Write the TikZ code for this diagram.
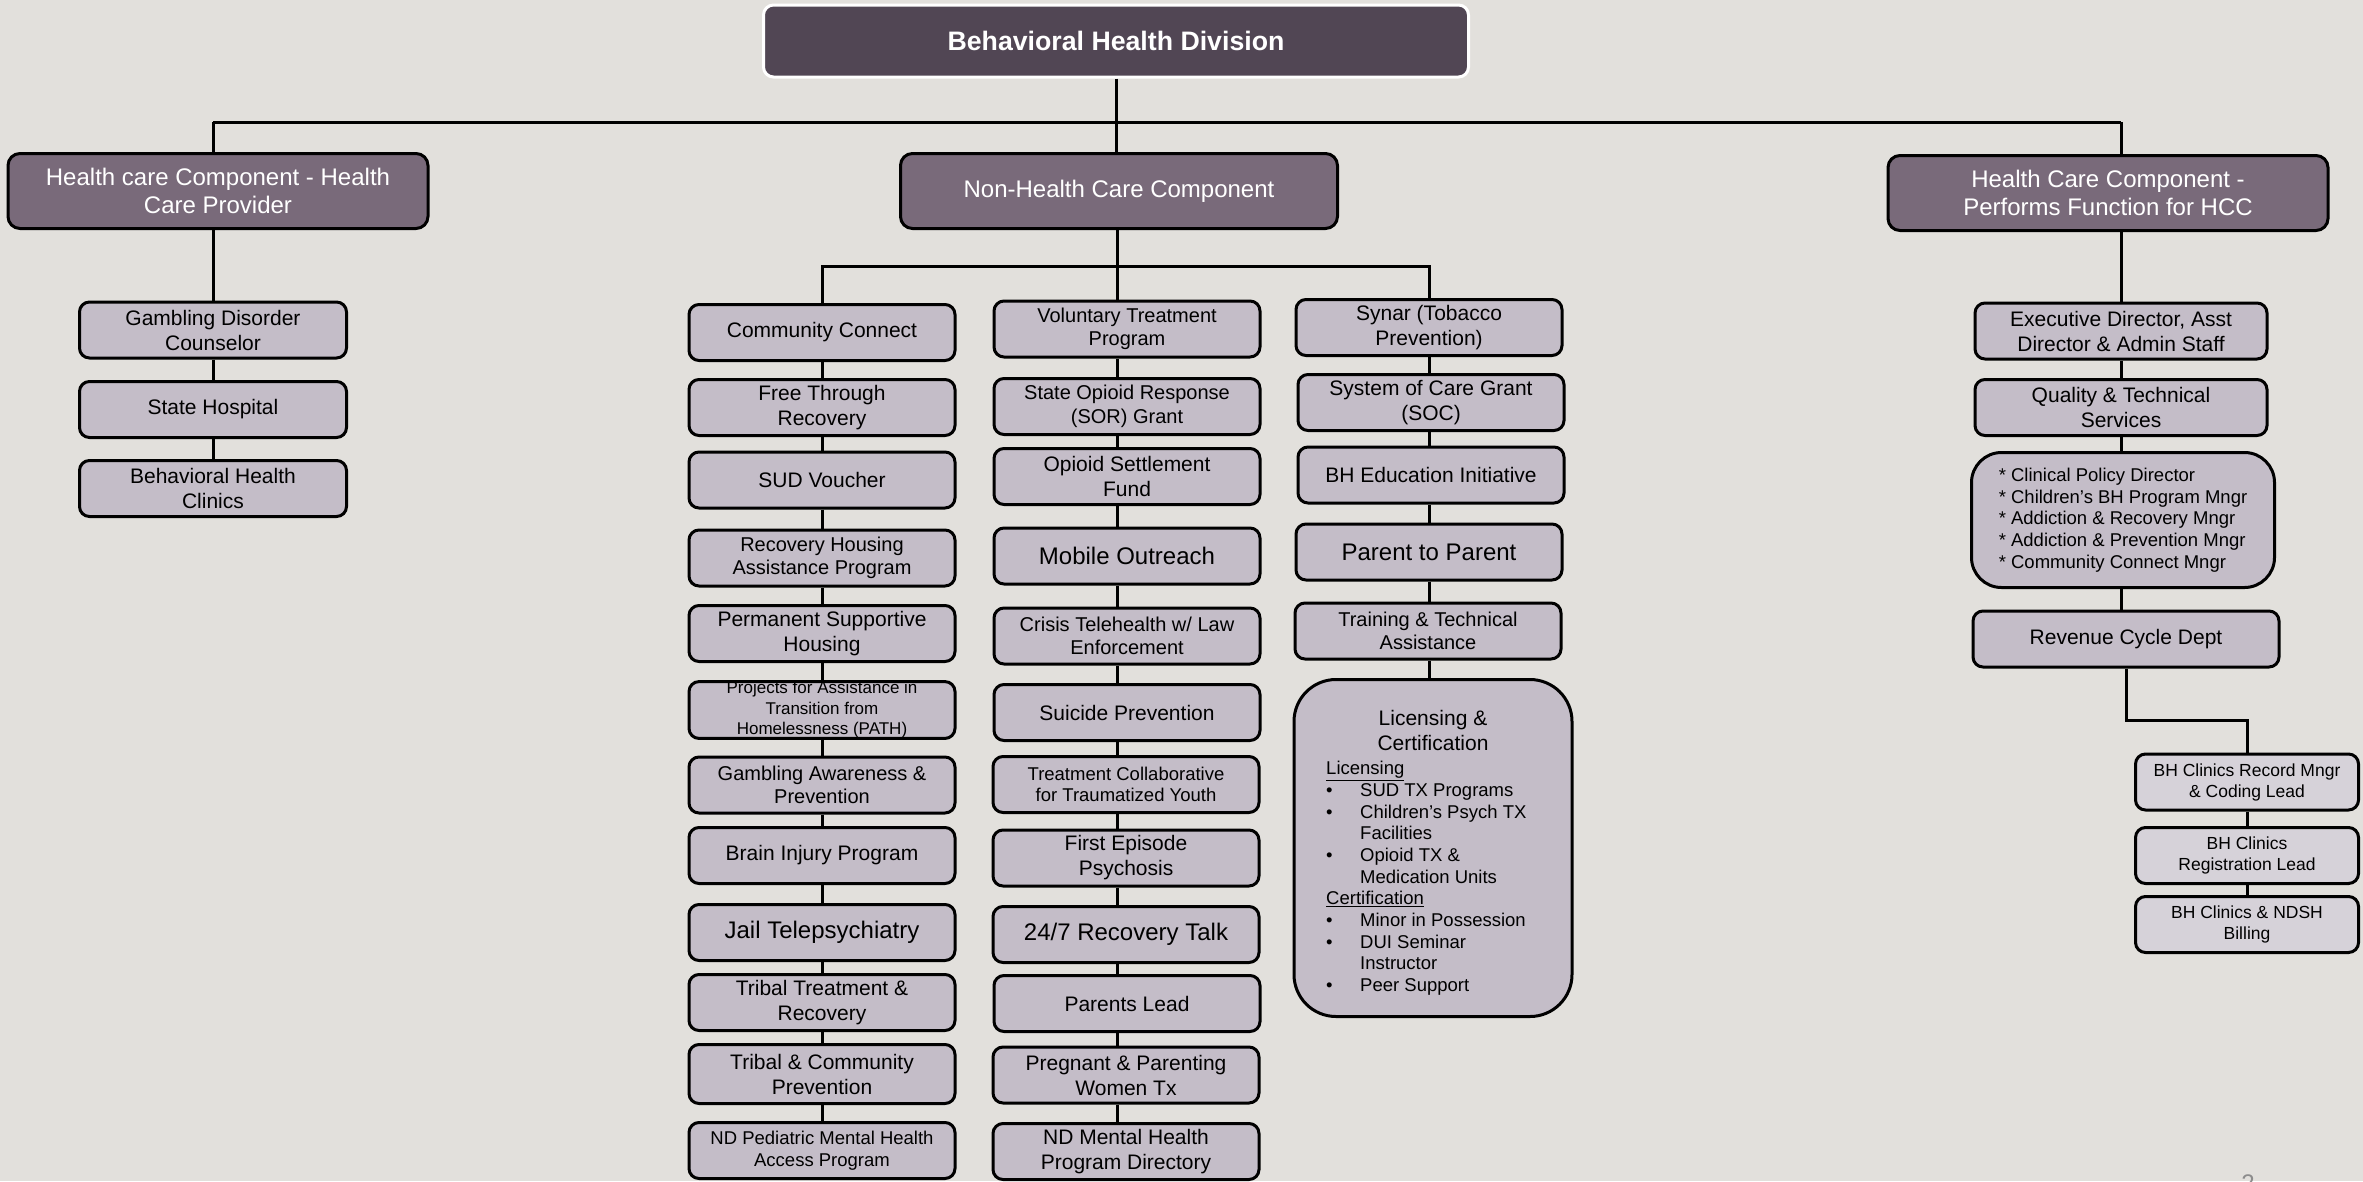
\documentclass[tikz,border=0pt]{standalone}
\usepackage{fontspec}
\setmainfont{Liberation Sans}
\usetikzlibrary{positioning}
\definecolor{bgc}{RGB}{226,224,220}
\definecolor{topc}{RGB}{81,70,84}
\definecolor{compc}{RGB}{121,106,122}
\definecolor{progc}{RGB}{196,189,200}
\definecolor{clinc}{RGB}{214,210,217}
\tikzset{
  hd/.style={rectangle, rounded corners=10pt, minimum width=705pt, minimum height=72pt, align=center, draw=white, line width=3pt, fill=topc, text=white, font=\fontsize{26.7}{32}\selectfont\bfseries},
  cp/.style={rectangle, rounded corners=12pt, minimum height=75pt, align=center, draw=black, line width=3pt, fill=compc, text=white, font=\fontsize{24}{28.5}\selectfont},
  pg/.style={rectangle, rounded corners=10pt, minimum width=266pt, minimum height=56pt, align=center, draw=black, line width=3pt, fill=progc, inner sep=2pt, font=\fontsize{21}{25}\selectfont},
  cl/.style={pg, fill=clinc, minimum width=223pt, font=\fontsize{17.5}{21}\selectfont},
  big/.style={font=\fontsize{24}{28}\selectfont},
  sm/.style={font=\fontsize{20}{23.5}\selectfont},
  xs/.style={font=\fontsize{18.5}{21.7}\selectfont},
  xxs/.style={font=\fontsize{17}{20.5}\selectfont, inner ysep=0pt},
  ln/.style={draw=black, line width=3pt}
}

\begin{document}
\begin{tikzpicture}[x=1pt, y=-1pt]
	\fill[bgc] (0,0) rectangle (2363,1181);
	\useasboundingbox (0,0) rectangle (2363,1181);
	%
	\node[hd] (bhd) at (1116,41) {Behavioral Health Division};
	\node[cp, minimum width=420pt] (hcp) at (218,191) {Health care Component - Health\\Care Provider};
	\node[cp, minimum width=437pt] (ncc) at (1119,191) {Non-Health Care Component};
	\node[cp, minimum width=440pt] (hcf) at (2108,193) {Health Care Component -\\Performs Function for HCC};
	\coordinate (barl) at (213,122);
	\coordinate (barr) at (2121,122);
	\coordinate (nbar) at (1117,266);
	\coordinate (rbend) at (2121,720);
	% health care provider
	\node[pg, minimum width=267pt] (gdc) at (213,330) {Gambling Disorder\\Counselor};
	\node[pg, minimum width=267pt] (sh) at (213,409.5) {State Hospital};
	\node[pg, minimum width=267pt] (bhc) at (213,488.5) {Behavioral Health\\Clinics};
	% non-health care, first column
	\node[pg] (cc) at (822,332.5) {Community Connect};
	\node[pg] (ftr) at (822,407.5) {Free Through\\Recovery};
	\node[pg] (sud) at (822,480) {SUD Voucher};
	\node[pg, sm] (rha) at (822,558) {Recovery Housing\\Assistance Program};
	\node[pg] (psh) at (822,633.5) {Permanent Supportive\\Housing};
	\node[pg, xxs] (path) at (822,710) {Projects for Assistance in\\Transition from\\Homelessness (PATH)};
	\node[pg, sm] (gap) at (822,785) {Gambling Awareness \&\\Prevention};
	\node[pg] (bip) at (822,855.5) {Brain Injury Program};
	\node[pg, big] (jtp) at (822,932.5) {Jail Telepsychiatry};
	\node[pg] (ttr) at (822,1002.5) {Tribal Treatment \&\\Recovery};
	\node[pg, minimum height=59pt] (tcp) at (822,1074) {Tribal \& Community\\Prevention};
	\node[pg, xs] (ndp) at (822,1150.5) {ND Pediatric Mental Health\\Access Program};
	% second column
	\node[pg, sm] (vtp) at (1127,329) {Voluntary Treatment\\Program};
	\node[pg, sm] (sor) at (1127,406.5) {State Opioid Response\\(SOR) Grant};
	\node[pg] (osf) at (1127,476.5) {Opioid Settlement\\Fund};
	\node[pg, big] (mob) at (1127,556) {Mobile Outreach};
	\node[pg, sm] (cth) at (1127,636) {Crisis Telehealth w/ Law\\Enforcement};
	\node[pg] (sup) at (1127,712.5) {Suicide Prevention};
	\node[pg, xs] (tcy) at (1126,784.5) {Treatment Collaborative\\for Traumatized Youth};
	\node[pg] (fep) at (1126,858) {First Episode\\Psychosis};
	\node[pg, big] (rct) at (1126,934.5) {24/7 Recovery Talk};
	\node[pg] (pl) at (1127,1003.5) {Parents Lead};
	\node[pg] (ppw) at (1126,1075) {Pregnant \& Parenting\\Women Tx};
	\node[pg] (ndm) at (1126,1151.5) {ND Mental Health\\Program Directory};
	% third column
	\node[pg] (syn) at (1429,327.5) {Synar (Tobacco\\Prevention)};
	\node[pg] (soc) at (1431,402.5) {System of Care Grant\\(SOC)};
	\node[pg] (bhe) at (1431,475) {BH Education Initiative};
	\node[pg, big] (ptp) at (1429,552) {Parent to Parent};
	\node[pg, sm] (tta) at (1428,631) {Training \& Technical\\Assistance};
	\node[pg, minimum width=278pt, minimum height=337pt, rounded corners=42pt] (lic) at (1433,848) {};
	\node[align=center, anchor=north, inner sep=0pt, font=\fontsize{21}{25}\selectfont] (lict) at (1433,710) {Licensing \&\\Certification};
	\node[xs, align=left, anchor=north west, inner sep=0pt] (licl) at (1326,761) {\underline{Licensing}\\
		\makebox[34pt][l]{\textbullet}SUD TX Programs\\
		\makebox[34pt][l]{\textbullet}Children’s Psych TX\\
		\hspace*{34pt}Facilities\\
		\makebox[34pt][l]{\textbullet}Opioid TX \&\\
		\hspace*{34pt}Medication Units\\
		\underline{Certification}\\
		\makebox[34pt][l]{\textbullet}Minor in Possession\\
		\makebox[34pt][l]{\textbullet}DUI Seminar\\
		\hspace*{34pt}Instructor\\
		\makebox[34pt][l]{\textbullet}Peer Support};
	% performs function for hcc
	\node[pg, minimum width=292pt] (exd) at (2121,331) {Executive Director, Asst\\Director \& Admin Staff};
	\node[pg, minimum width=292pt] (qts) at (2121,407.5) {Quality \& Technical\\Services};
	\node[pg, xs, minimum width=303pt, minimum height=135pt, rounded corners=30pt, align=left] (mgr) at (2123,520) {* Clinical Policy Director\\* Children’s BH Program Mngr\\* Addiction \& Recovery Mngr\\* Addiction \& Prevention Mngr\\* Community Connect Mngr};
	\node[pg, minimum width=306pt] (rcd) at (2126,639) {Revenue Cycle Dept};
	\node[cl] (bcr) at (2247,782) {BH Clinics Record Mngr\\\& Coding Lead};
	\node[cl] (bcg) at (2247,855.5) {BH Clinics\\Registration Lead};
	\node[cl] (bcb) at (2247,924.5) {BH Clinics \& NDSH\\Billing};
	\node[anchor=north, inner sep=0pt, text=black!45, font=\fontsize{24}{28}\selectfont] (pgno) at (2248,1175) {2};
	%
	\draw[ln] (bhd.south) -- (bhd.south |- ncc.north);
	\draw[ln] (barl) -- (barr);
	\draw[ln] (barl) -- (barl |- hcp.north);
	\draw[ln] (barr) -- (barr |- hcf.north);
	\draw[ln] (hcp.south -| gdc) -- (gdc.north);
	\draw[ln] (hcf.south -| exd) -- (exd.north);
	\draw[ln] (ncc.south -| nbar) -- (vtp.north -| nbar);
	\draw[ln] (cc.north) -- (cc.north |- nbar) -- (syn.north |- nbar) -- (syn.north);
	\draw[ln] (gdc.south) -- (sh.north) (sh.south) -- (bhc.north);
	\draw[ln] (cc.south) -- (ftr.north) (ftr.south) -- (sud.north) (sud.south) -- (rha.north)
		(rha.south) -- (psh.north) (psh.south) -- (path.north) (path.south) -- (gap.north)
		(gap.south) -- (bip.north) (bip.south) -- (jtp.north) (jtp.south) -- (ttr.north)
		(ttr.south) -- (tcp.north) (tcp.south) -- (ndp.north);
	\draw[ln] (vtp.south -| nbar) -- (sor.north -| nbar) (sor.south -| nbar) -- (osf.north -| nbar)
		(osf.south -| nbar) -- (mob.north -| nbar) (mob.south -| nbar) -- (cth.north -| nbar)
		(cth.south -| nbar) -- (sup.north -| nbar) (sup.south -| nbar) -- (tcy.north -| nbar)
		(tcy.south -| nbar) -- (fep.north -| nbar) (fep.south -| nbar) -- (rct.north -| nbar)
		(rct.south -| nbar) -- (pl.north -| nbar) (pl.south -| nbar) -- (ppw.north -| nbar)
		(ppw.south -| nbar) -- (ndm.north -| nbar);
	\draw[ln] (syn.south) -- (syn.south |- soc.north) (syn.south |- soc.south) -- (syn.south |- bhe.north)
		(syn.south |- bhe.south) -- (syn.south |- ptp.north) (syn.south |- ptp.south) -- (syn.south |- tta.north)
		(syn.south |- tta.south) -- (syn.south |- lic.north);
	\draw[ln] (exd.south) -- (qts.north) (qts.south) -- (qts.south |- mgr.north) (qts.south |- mgr.south) -- (qts.south |- rcd.north);
	\draw[ln] (rcd.south) -- (rcd.south |- rbend) -| (bcr.north);
	\draw[ln] (bcr.south) -- (bcg.north) (bcg.south) -- (bcb.north);
\end{tikzpicture}
\end{document}
